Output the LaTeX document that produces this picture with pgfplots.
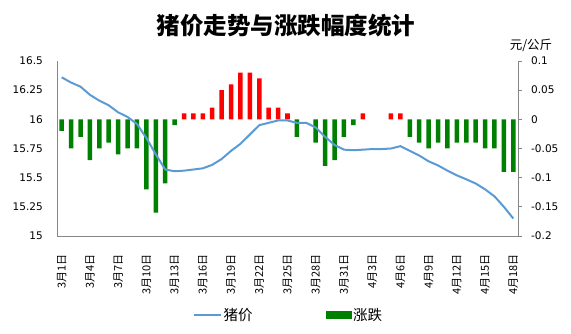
\documentclass[border=0pt]{standalone}
\usepackage{pgfplots}
\pgfplotsset{compat=1.18}
\usepackage{fontspec}
\setmainfont{Noto Sans CJK SC}
\newfontfamily\numfont{DejaVu Sans}
\definecolor{lineblue}{HTML}{5B9BD5}
\definecolor{bargreen}{HTML}{008000}
\definecolor{barred}{HTML}{FF0000}
\definecolor{axgray}{HTML}{868686}
\pgfplotsset{
  lineleg/.style={legend image code/.code={\draw[lineblue, line width=2pt] (0pt,0pt) -- (27pt,0pt);}},
  barleg/.style={legend image code/.code={\fill[bargreen] (0pt,-3.5pt) rectangle (25pt,3.5pt);}},
}

\pgfplotstableread{
x y
0 -0.02
1 -0.05
2 -0.03
3 -0.07
4 -0.05
5 -0.04
6 -0.06
7 -0.05
8 -0.05
9 -0.12
10 -0.16
11 -0.11
12 -0.01
25 -0.03
27 -0.04
28 -0.08
29 -0.07
30 -0.03
31 -0.01
37 -0.03
38 -0.04
39 -0.05
40 -0.04
41 -0.05
42 -0.04
43 -0.04
44 -0.04
45 -0.05
46 -0.05
47 -0.09
48 -0.09
}\negdata

\pgfplotstableread{
x y
13 0.01
14 0.01
15 0.01
16 0.02
17 0.05
18 0.06
19 0.08
20 0.08
21 0.07
22 0.02
23 0.02
24 0.01
32 0.01
35 0.01
36 0.01
}\posdata

\pgfplotstableread{
x y
0 16.36
1 16.315
2 16.28
3 16.21
4 16.16
5 16.12
6 16.06
7 16.02
8 15.96
9 15.84
10 15.70
11 15.57
12 15.555
13 15.56
14 15.57
15 15.58
16 15.61
17 15.66
18 15.73
19 15.79
20 15.87
21 15.95
22 15.97
23 15.99
24 15.99
25 15.97
26 15.97
27 15.93
28 15.85
29 15.78
30 15.74
31 15.735
32 15.74
33 15.745
34 15.745
35 15.75
36 15.77
37 15.73
38 15.69
39 15.64
40 15.605
41 15.56
42 15.52
43 15.486
44 15.45
45 15.40
46 15.34
47 15.25
48 15.15
}\pricedata

\begin{document}
\begin{tikzpicture}
\path[use as bounding box] (0pt,0pt) rectangle (571pt,334pt);
% bars, right axis
\begin{axis}[
  at={(57pt,98pt)}, anchor=south west, scale only axis,
  width=461pt, height=175pt,
  xmin=-0.5, xmax=48.5, ymin=-0.2, ymax=0.1,
  axis x line*=bottom, axis y line*=right,
  axis line style={axgray, line width=0.8pt},
  xtick={0,3,...,48},
  xticklabels={3月1日,3月4日,3月7日,3月10日,3月13日,3月16日,3月19日,3月22日,3月25日,3月28日,3月31日,4月3日,4月6日,4月9日,4月12日,4月15日,4月18日},
  xticklabel style={rotate=90, anchor=east, inner sep=0pt, font=\fontsize{11}{12}\selectfont},
  xticklabel shift=14pt,
  x tick style={draw=none},
  ytick={-0.2,-0.15,-0.1,-0.05,0,0.05,0.1},
  yticklabels={-0.2,-0.15,-0.1,-0.05,0,0.05,0.1},
  yticklabel style={anchor=west, inner sep=0pt, font=\numfont\fontsize{10.5}{12}\selectfont},
  yticklabel shift=9pt,
  y tick style={axgray, line width=0.8pt},
  tick align=outside, major tick length=4pt,
  clip=false,
]
\addplot[ybar, bar width=4.5pt, fill=bargreen, draw=none] table[x=x,y=y] {\negdata};
\addplot[ybar, bar width=4.5pt, fill=barred, draw=none] table[x=x,y=y] {\posdata};
\end{axis}
% line, left axis
\begin{axis}[
  at={(57pt,98pt)}, anchor=south west, scale only axis,
  width=461pt, height=175pt,
  xmin=-0.5, xmax=48.5, ymin=15, ymax=16.5,
  axis x line=none, axis y line*=left,
  axis line style={axgray, line width=0.8pt},
  ytick={15,15.25,15.5,15.75,16,16.25,16.5},
  yticklabels={15,15.25,15.5,15.75,16,16.25,16.5},
  yticklabel style={anchor=east, inner sep=0pt, font=\numfont\fontsize{10.5}{12}\selectfont},
  yticklabel shift=14pt,
  y tick style={draw=none}, major tick length=0pt,
  legend style={at={(0.502,-0.451)}, anchor=center, draw=none, fill=none,
    legend columns=2, font=\fontsize{14.5}{16}\selectfont},
  legend cell align=left,
]
\addplot[lineblue, line width=2pt, lineleg] table[x=x,y=y] {\pricedata};
\addlegendentry{\makebox[100pt][l]{猪价}}
\addlegendimage{barleg}
\addlegendentry{涨跌}
\end{axis}
\node[font=\fontsize{23.5}{25}\selectfont\bfseries] at (286pt,308pt) {猪价走势与涨跌幅度统计};
\node[font=\fontsize{12.5}{14}\selectfont] at (531pt,289pt) {元/公斤};
\end{tikzpicture}
\end{document}
